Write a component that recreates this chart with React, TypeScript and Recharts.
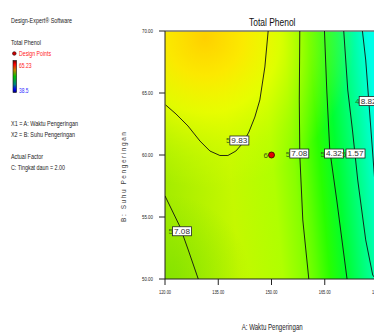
import React from "react";
import { ComposedChart, XAxis, YAxis, Scatter, ReferenceArea, ReferenceLine } from "recharts";

// Total Phenol contour plot (Design-Expert style)
// A: Waktu Pengeringan (x), B: Suhu Pengeringan (y)

const xTicks = [120, 135, 150, 165, 180];
const yTicks = [50, 55, 60, 65, 70];

// contour lines (data units)
const level5983 = [
  { x: 120.2, y: 64.03 }, { x: 123.09, y: 63.31 }, { x: 126.47, y: 62.34 },
  { x: 129.84, y: 61.13 }, { x: 132.66, y: 60.32 }, { x: 135.47, y: 59.96 },
  { x: 137.72, y: 59.96 }, { x: 139.97, y: 60.32 }, { x: 141.94, y: 60.97 },
  { x: 143.63, y: 61.85 }, { x: 145.31, y: 63.06 }, { x: 146.72, y: 64.44 },
  { x: 148.13, y: 67.1 }, { x: 149.06, y: 70 },
];
const level5708a = [
  { x: 120.0, y: 56.7 }, { x: 124.22, y: 54.22 }, { x: 126.55, y: 52.34 }, { x: 129.37, y: 50 },
];
const level5708b = [
  { x: 157.97, y: 70 }, { x: 157.83, y: 64.44 }, { x: 157.97, y: 60.0 },
  { x: 158.82, y: 54.76 }, { x: 160.51, y: 50 },
];
const level5432 = [
  { x: 164.92, y: 70 }, { x: 165.57, y: 65.24 }, { x: 166.41, y: 60.4 },
  { x: 168.38, y: 56.37 }, { x: 171.28, y: 50 },
];
const level5157 = [
  { x: 170.35, y: 70 }, { x: 171.48, y: 65.24 }, { x: 172.8, y: 62.02 },
  { x: 174.29, y: 57.98 }, { x: 176.54, y: 53.15 }, { x: 178.51, y: 50.32 }, { x: 179.36, y: 50 },
];
const level4882 = [
  { x: 175.61, y: 70 }, { x: 176.54, y: 67.66 }, { x: 177.38, y: 64.44 },
  { x: 178.23, y: 61.21 }, { x: 179.07, y: 57.98 }, { x: 179.6, y: 56.0 },
];
const contours = [level5983, level5708a, level5708b, level5432, level5157, level4882];

const contourLabels = [
  { x: 140.95, y: 61.17, text: "59.83" },
  { x: 124.78, y: 53.85, text: "57.08" },
  { x: 157.83, y: 60.12, text: "57.08" },
  { x: 167.59, y: 60.12, text: "54.32" },
  { x: 173.67, y: 60.12, text: "51.57" },
  { x: 177.38, y: 64.35, text: "48.82" },
];

const designPoints = [{ x: 150, y: 60, n: "6" }];

const FONT = "'Liberation Sans Narrow', 'Liberation Sans', Arial, sans-serif";

const fmt = (v: number) => v.toFixed(2);

function XTick(props: any) {
  const { x, y, payload } = props;
  return (
    <text x={x} y={y + 3} textAnchor="middle" fontSize={5.5} fontFamily={FONT} fill="#222"
      textLength={12} lengthAdjust="spacingAndGlyphs">
      {fmt(payload.value)}
    </text>
  );
}

function YTick(props: any) {
  const { x, y, payload } = props;
  return (
    <text x={x} y={y + 2} textAnchor="end" fontSize={5.5} fontFamily={FONT} fill="#222"
      textLength={11} lengthAdjust="spacingAndGlyphs">
      {fmt(payload.value)}
    </text>
  );
}

function ContourLabel(props: any) {
  const { cx, cy, payload } = props;
  const head = payload.text.slice(0, 1);
  const rest = payload.text.slice(1);
  return (
    <g>
      <text x={cx - 9} y={cy + 3} textAnchor="end" fontSize={8} fontFamily={FONT} fill="#2f6a10">{head}</text>
      <rect x={cx - 9.5} y={cy - 4.5} width={19} height={9} fill="#fff" stroke="#222" strokeWidth={0.8} />
      <text x={cx - 8} y={cy + 2.5} fontSize={7} fontFamily={FONT} fill="#333"
        textLength={16} lengthAdjust="spacingAndGlyphs">{rest}</text>
    </g>
  );
}

function DesignPoint(props: any) {
  const { cx, cy, payload } = props;
  return (
    <g>
      <text x={cx - 3.5} y={cy + 3} textAnchor="end" fontSize={8} fontFamily={FONT} fill="#3a5a10">{payload.n}</text>
      <circle cx={cx} cy={cy} r={3} fill="#e00000" stroke="#300" strokeWidth={0.8} />
    </g>
  );
}

const noDot = () => <g />;

function SidePanel() {
  const t = { fontFamily: FONT, fontSize: 7, fill: "#222" } as const;
  return (
    <svg width={374} height={334} style={{ position: "absolute", left: 0, top: 0, pointerEvents: "none" }}>
      <defs>
        <linearGradient id="legendBar" x1="0" y1="0" x2="0" y2="1">
          <stop offset="0" stopColor="#700000" />
          <stop offset="0.12" stopColor="#ff0000" />
          <stop offset="0.3" stopColor="#c08000" />
          <stop offset="0.5" stopColor="#00c000" />
          <stop offset="0.75" stopColor="#008080" />
          <stop offset="0.9" stopColor="#0000ff" />
          <stop offset="1" stopColor="#000070" />
        </linearGradient>
      </defs>
      <text x={11} y={22.5} {...t} textLength={61} lengthAdjust="spacingAndGlyphs">Design-Expert® Software</text>
      <text x={11} y={45} {...t} textLength={30} lengthAdjust="spacingAndGlyphs">Total Phenol</text>
      <circle cx={14.3} cy={53.5} r={1.8} fill="#d00000" stroke="#200" strokeWidth={0.6} />
      <text x={19} y={56} {...t} fill="#ff2020" textLength={32} lengthAdjust="spacingAndGlyphs">Design Points</text>
      <rect x={13} y={60.5} width={3.5} height={32} fill="url(#legendBar)" stroke="#111" strokeWidth={0.6} />
      <text x={19} y={68} {...t} fill="#ff2020" textLength={12.5} lengthAdjust="spacingAndGlyphs">65.23</text>
      <text x={19} y={92.5} {...t} fill="#3030ff" textLength={9.5} lengthAdjust="spacingAndGlyphs">38.5</text>
      <text x={11} y={126} {...t} textLength={67} lengthAdjust="spacingAndGlyphs">X1 = A: Waktu Pengeringan</text>
      <text x={11} y={136.7} {...t} textLength={64} lengthAdjust="spacingAndGlyphs">X2 = B: Suhu Pengeringan</text>
      <text x={11} y={159.3} {...t} textLength={32} lengthAdjust="spacingAndGlyphs">Actual Factor</text>
      <text x={11} y={170} {...t} textLength={54} lengthAdjust="spacingAndGlyphs">C: Tingkat daun = 2.00</text>

      <text x={249} y={26} fontFamily={FONT} fontSize={11.5} fill="#111" textLength={46.5} lengthAdjust="spacingAndGlyphs">Total Phenol</text>
      <text x={241.7} y={330} fontFamily={FONT} fontSize={8.5} fill="#222" textLength={61} lengthAdjust="spacingAndGlyphs">A: Waktu Pengeringan</text>
      <text x={0} y={0} transform="translate(126,222) rotate(-90)" fontFamily={FONT} fontSize={6.5} fill="#444"
        textLength={90} lengthAdjust="spacing">B: Suhu Pengeringan</text>
    </svg>
  );
}

export default function App() {
  return (
    <div style={{ position: "fixed", left: 0, top: 0, width: 374, height: 334, overflow: "hidden", background: "#fff" }}>
      <div style={{ position: "absolute", left: 0, top: 0 }}>
        <ComposedChart width={392} height={334} margin={{ top: 31, right: 14, bottom: 35, left: 135 }}>
          <defs>
            <linearGradient id="fieldMain" gradientUnits="userSpaceOnUse" x1={165} y1={160} x2={378} y2={141}>
              <stop offset="0" stopColor="#a6ec00" />
              <stop offset="0.3" stopColor="#c4f800" />
              <stop offset="0.5" stopColor="#b0ff00" />
              <stop offset="0.6" stopColor="#88ff00" />
              <stop offset="0.66" stopColor="#5cff00" />
              <stop offset="0.72" stopColor="#28ff00" />
              <stop offset="0.8" stopColor="#00ff30" />
              <stop offset="0.87" stopColor="#00ff70" />
              <stop offset="0.94" stopColor="#00ffb0" />
              <stop offset="1" stopColor="#00ffe8" />
            </linearGradient>
            <radialGradient id="fieldHigh" gradientUnits="userSpaceOnUse" cx={205} cy={38} r={150}>
              <stop offset="0" stopColor="#ffd000" stopOpacity={1} />
              <stop offset="0.25" stopColor="#ffe800" stopOpacity={0.95} />
              <stop offset="0.5" stopColor="#f4ff00" stopOpacity={0.75} />
              <stop offset="0.8" stopColor="#d8ff00" stopOpacity={0.3} />
              <stop offset="1" stopColor="#d8ff00" stopOpacity={0} />
            </radialGradient>
            <radialGradient id="fieldLow" gradientUnits="userSpaceOnUse" cx={165} cy={279} r={85}>
              <stop offset="0" stopColor="#70dd00" stopOpacity={0.6} />
              <stop offset="1" stopColor="#70dd00" stopOpacity={0} />
            </radialGradient>
          </defs>
          <XAxis type="number" dataKey="x" domain={[120, 180]} ticks={xTicks} allowDataOverflow
            height={20} tickSize={6} tickMargin={6} tick={<XTick />}
            axisLine={{ stroke: "#222" }} tickLine={{ stroke: "#222" }} />
          <YAxis type="number" dataKey="y" domain={[50, 70]} ticks={yTicks} allowDataOverflow
            width={30} tickSize={6} tickMargin={6} tick={<YTick />}
            axisLine={{ stroke: "#222" }} tickLine={{ stroke: "#222" }} />
          <ReferenceArea x1={120} x2={180} y1={50} y2={70} fill="url(#fieldMain)" fillOpacity={1} stroke="none" />
          <ReferenceArea x1={120} x2={180} y1={50} y2={70} fill="url(#fieldHigh)" fillOpacity={1} stroke="none" />
          <ReferenceArea x1={120} x2={180} y1={50} y2={70} fill="url(#fieldLow)" fillOpacity={1} stroke="none" />
          <ReferenceLine y={70} stroke="#777" strokeWidth={1.6} />
          {contours.map((c, i) => (
            <Scatter key={i} data={c} fill="#111" line={{ stroke: "#111", strokeWidth: 0.9 }}
              shape={noDot} isAnimationActive={false} />
          ))}
          <Scatter data={contourLabels} shape={<ContourLabel />} isAnimationActive={false} />
          <Scatter data={designPoints} shape={<DesignPoint />} isAnimationActive={false} />
        </ComposedChart>
      </div>
      <SidePanel />
    </div>
  );
}
